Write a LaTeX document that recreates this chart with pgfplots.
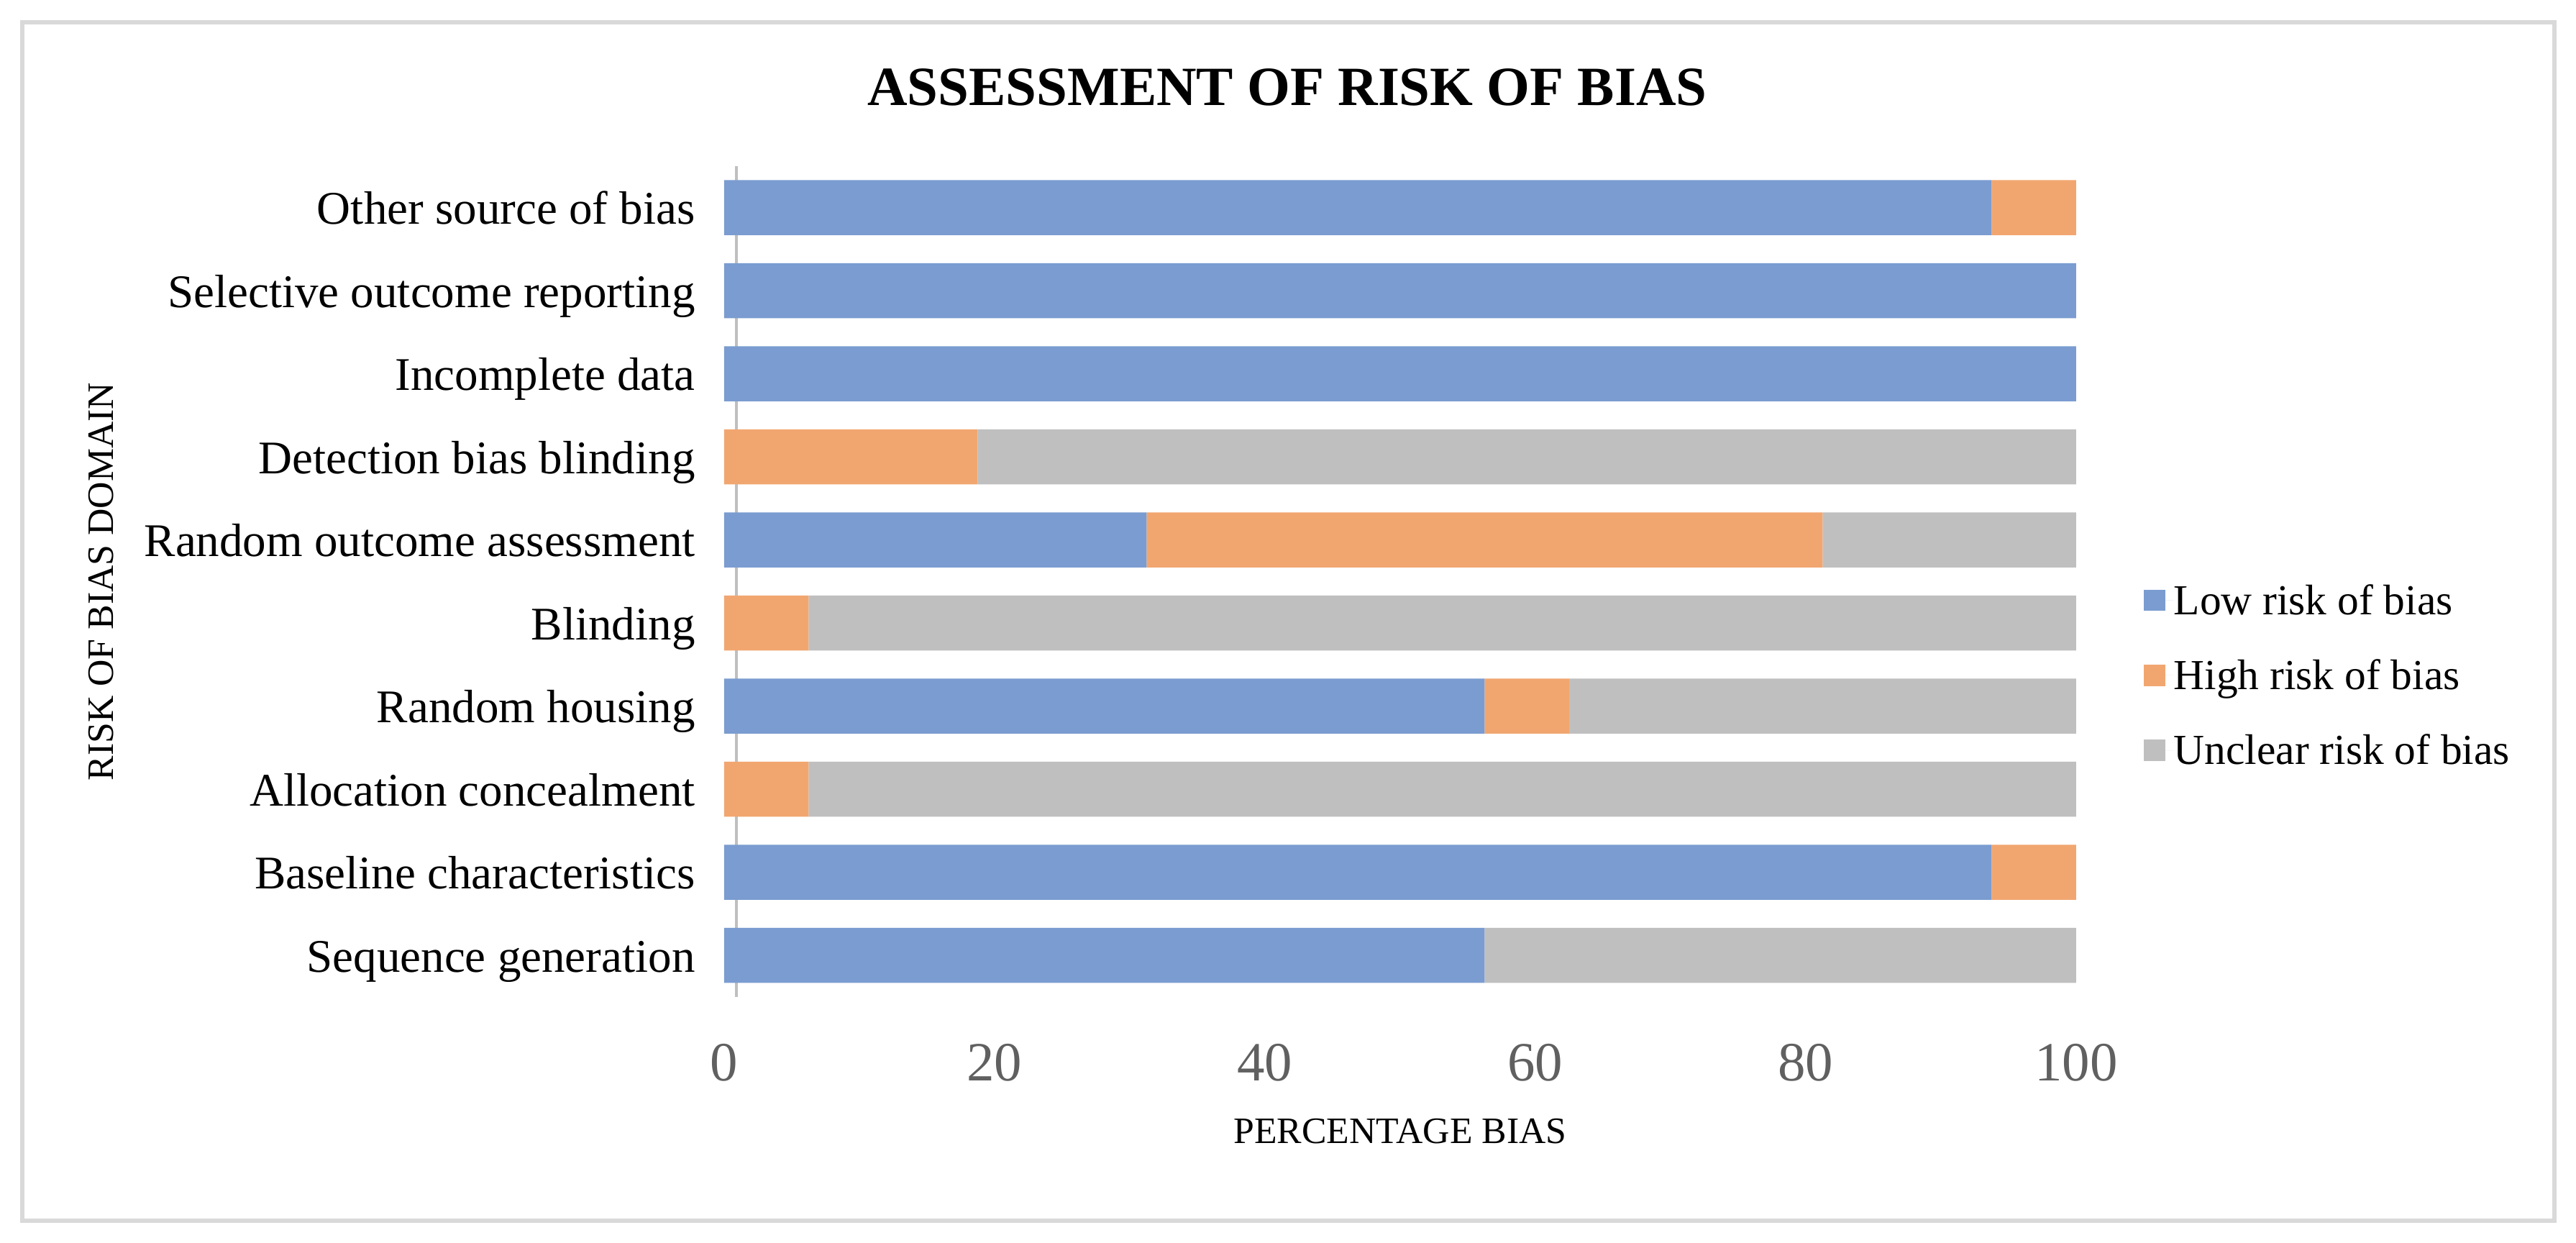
\documentclass[border=0pt]{standalone}
\usepackage{fontspec}
\setmainfont{Liberation Serif}
\usepackage{pgfplots}
\pgfplotsset{compat=1.18}

\definecolor{lowc}{RGB}{122,156,208}
\definecolor{highc}{RGB}{241,166,112}
\definecolor{unclc}{RGB}{191,191,191}
\definecolor{framec}{RGB}{217,217,217}
\definecolor{tickc}{RGB}{96,96,96}

\begin{document}
\begin{tikzpicture}
\useasboundingbox (0,0) rectangle (18cm,8.6834cm);
\draw[framec, line width=0.75pt] (0.1558cm,0.1558cm) rectangle (17.849cm,8.5276cm);
\begin{axis}[
    at={(5.0603cm,1.7186cm)}, anchor=south west,
    scale only axis,
    width=9.4472cm, height=5.804cm,
    xbar stacked,
    bar width=0.3844cm,
    xmin=0, xmax=100,
    ymin=-0.5, ymax=9.5,
    enlargelimits=false,
    xtick={0,20,...,100},
    ytick={0,...,9},
    yticklabels={Sequence generation, Baseline characteristics, Allocation concealment,
        Random housing, Blinding, Random outcome assessment, Detection bias blinding,
        Incomplete data, Selective outcome reporting, Other source of bias},
    axis line style={draw=none},
    major tick length=0pt,
    /pgf/number format/assume math mode=true,
    xticklabel style={font=\fontsize{11}{13}\selectfont, text=tickc, anchor=center, yshift=-0.4573cm},
    yticklabel style={font=\fontsize{9.3}{11}\selectfont, anchor=east, inner sep=0pt,
        xshift=-0.196cm, text height=0.66em, text depth=0pt},
    xlabel={PERCENTAGE BIAS},
    xlabel style={font=\fontsize{7.4}{9}\selectfont, at={(axis description cs:0.5,-0.1619)}, anchor=center},
    ylabel={RISK OF BIAS DOMAIN},
    ylabel style={font=\fontsize{7.4}{9}\selectfont, at={(axis description cs:-0.4606,0.5)}, anchor=center},
    title={ASSESSMENT OF RISK OF BIAS},
    every axis title shift=0pt,
    title style={font=\fontsize{11}{13}\selectfont\bfseries, at={(axis description cs:0.4165,1.0952)},
        anchor=center, yshift=0pt},
    legend image code/.code={\fill[#1] (0pt,-2.1pt) rectangle (4.2pt,2.1pt); \path (0pt,0pt) -- (5.9pt,0pt);},
    legend style={draw=none, fill=none, at={(axis description cs:1.0495,0.387)}, anchor=west,
        font=\fontsize{8.5}{10}\selectfont, row sep=9.3pt, inner sep=0pt,
        nodes={inner sep=0pt, text height=5.6pt, text depth=0pt}},
    legend cell align=left,
    clip=false,
]
\addplot[fill=lowc, draw=none] coordinates {
    (56.25,0) (93.75,1) (0,2) (56.25,3) (0,4) (31.25,5) (0,6) (100,7) (100,8) (93.75,9)};
\addplot[fill=highc, draw=none] coordinates {
    (0,0) (6.25,1) (6.25,2) (6.25,3) (6.25,4) (50,5) (18.75,6) (0,7) (0,8) (6.25,9)};
\addplot[fill=unclc, draw=none] coordinates {
    (43.75,0) (0,1) (93.75,2) (37.5,3) (93.75,4) (18.75,5) (81.25,6) (0,7) (0,8) (0,9)};
\legend{Low risk of bias, High risk of bias, Unclear risk of bias}
\draw[unclc, line width=0.6pt] (axis cs:0.9,-0.5) -- (axis cs:0.9,9.5);
\end{axis}
\end{tikzpicture}
\end{document}
